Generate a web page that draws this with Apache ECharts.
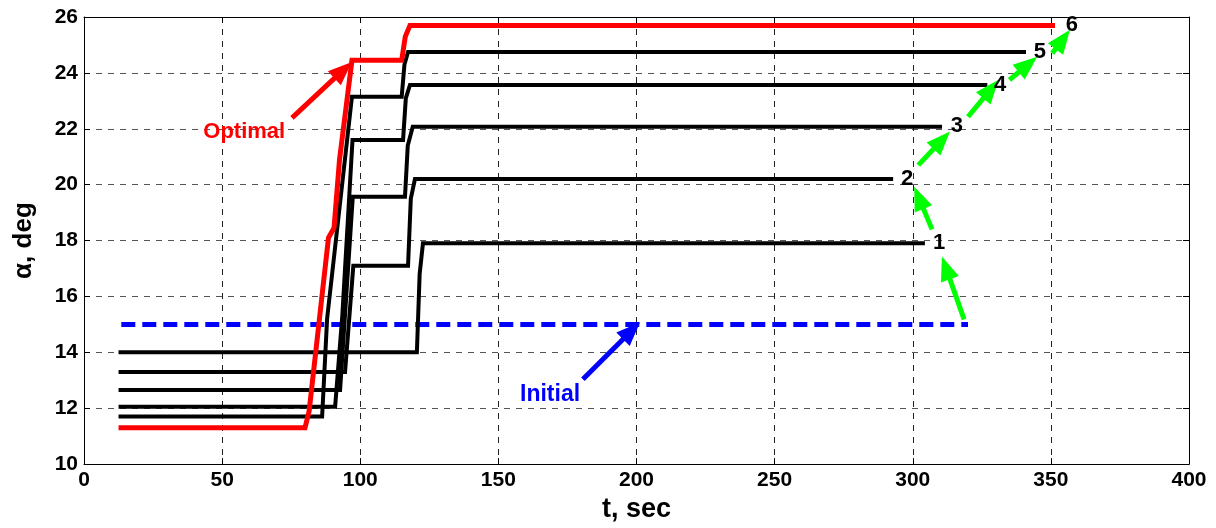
<!DOCTYPE html>
<html>
<head>
<meta charset="utf-8">
<script src="https://cdn.jsdelivr.net/npm/echarts@6/dist/echarts.min.js"></script>
<style>html,body{margin:0;padding:0;background:#fff}#c{width:1216px;height:528px}</style>
</head>
<body>
<div id="c"></div>
<script>
// ---- data (t in sec, alpha in deg) ----
const xTicks = [0, 50, 100, 150, 200, 250, 300, 350, 400];
const yTicks = [10, 12, 14, 16, 18, 20, 22, 24, 26];
const initialCurve = [[13.5, 15.0], [320, 15.0]];
const curve1 = [[12.5, 14.0], [120.5, 14.0], [121.5, 16.8], [122.7, 17.9], [304.4, 17.9]];
const curve2 = [[12.5, 13.3], [94.5, 13.3], [97.5, 17.1], [117.3, 17.1], [118.3, 19.5], [119.8, 20.2], [292.9, 20.2]];
const curve3 = [[12.5, 12.65], [92.7, 12.65], [97.3, 19.57], [116.2, 19.57], [117.2, 21.4], [119.0, 22.07], [310.6, 22.07]];
const curve4 = [[12.5, 12.05], [90.9, 12.05], [93.5, 15.3], [97.2, 21.6], [115.5, 21.6], [116.5, 23.1], [118.0, 23.57], [327, 23.57]];
const curve5 = [[12.5, 11.7], [86.2, 11.7], [88.0, 15.2], [97.0, 23.15], [115.0, 23.15], [116.0, 24.3], [117.3, 24.75], [341, 24.75]];
const optimalCurve = [[12.5, 11.3], [80, 11.3], [81.5, 11.9], [88.5, 18.1], [90.5, 18.45], [92.5, 20.9], [97, 24.45], [115, 24.45], [116.3, 25.3], [118, 25.7], [351.5, 25.7]];
const curveLabels = [[309.5, 17.9, '1'], [298, 20.2, '2'], [316, 22.1, '3'], [331.6, 23.57, '4'], [346, 24.75, '5'], [357.6, 25.7, '6']];
// arrows: [tail, arrowhead centre]
const greenArrows = [
  [[318.6, 15.18], [312.0, 17.02]],
  [[307.0, 18.4], [302.2, 19.53]],
  [[302.0, 20.7], [310.5, 21.59]],
  [[320.0, 22.43], [328.3, 23.42]],
  [[335.0, 23.75], [341.7, 24.30]],
  [[350.5, 24.7], [354.3, 25.20]]
];
const optimalArrow = [[75.3, 22.39], [93.8, 24.10]];
const initialArrow = [[180.6, 13.04], [198.2, 14.77]];
const optimalText = [[58, 21.9, 'Optimal']];
const initialText = [[168.7, 12.5, 'Initial']];

const FONT = 'Liberation Sans, Arial, sans-serif';

function curveSeries(data, color, width, dashed) {
  return {
    type: 'line', data: data, showSymbol: false, silent: true, animation: false,
    lineStyle: { color: color, width: width, type: dashed ? [14, 7] : 'solid', cap: 'butt', join: 'miter' },
    z: 3
  };
}
function arrowSeries(arrows, color) {
  return {
    type: 'line', data: [], silent: true, animation: false, z: 4,
    markLine: {
      silent: true, animation: false,
      symbol: ['none', 'triangle'], symbolSize: [19, 24],
      label: { show: false },
      lineStyle: { color: color, width: 5, type: 'solid', cap: 'butt', opacity: 1 },
      itemStyle: { color: color, opacity: 1 },
      emphasis: { disabled: true },
      data: arrows.map(a => [{ coord: a[0] }, { coord: a[1] }])
    }
  };
}
function textSeries(data, color, size) {
  return {
    type: 'scatter', data: data, symbolSize: 0, silent: true, animation: false, z: 5,
    itemStyle: { opacity: 1, color: color },
    label: { show: true, position: 'inside', formatter: p => p.data[2], color: color, opacity: 1,
      textBorderWidth: 0, textBorderColor: 'transparent',
      fontFamily: FONT, fontWeight: 'bold', fontSize: size }
  };
}

const option = {
  backgroundColor: '#fff',
  animation: false,
  grid: { left: 84, right: 27, top: 17, bottom: 63, containLabel: false },
  xAxis: [{
    type: 'value', min: 0, max: 400, interval: 50, position: 'bottom',
    name: 't, sec', nameLocation: 'middle', nameGap: 27,
    nameTextStyle: { fontFamily: FONT, fontWeight: 'bold', fontSize: 27, color: '#000' },
    axisLine: { show: true, onZero: false, lineStyle: { color: '#000', width: 1 } },
    axisTick: { show: true, inside: true, length: 6, lineStyle: { color: '#000' } },
    axisLabel: { margin: 6, fontFamily: FONT, fontWeight: 'bold', fontSize: 21, color: '#000',
      formatter: v => xTicks.includes(v) ? String(v) : '' },
    splitLine: { show: true, lineStyle: { color: '#222', width: 1, type: [6, 6] } }
  }, {
    type: 'value', min: 0, max: 400, interval: 50, position: 'top',
    axisLine: { show: true, onZero: false, lineStyle: { color: '#000', width: 1 } },
    axisTick: { show: true, inside: true, length: 6, lineStyle: { color: '#000' } },
    axisLabel: { show: false }, splitLine: { show: false }
  }],
  yAxis: [{
    type: 'value', min: 10, max: 26, interval: 2, position: 'left',
    name: 'α, deg', nameLocation: 'middle', nameGap: 47, nameRotate: 90,
    nameTextStyle: { fontFamily: FONT, fontWeight: 'bold', fontSize: 26, color: '#000' },
    axisLine: { show: true, onZero: false, lineStyle: { color: '#000', width: 1 } },
    axisTick: { show: true, inside: true, length: 6, lineStyle: { color: '#000' } },
    axisLabel: { margin: 6, fontFamily: FONT, fontWeight: 'bold', fontSize: 21, color: '#000',
      formatter: v => yTicks.includes(v) ? String(v) : '' },
    splitLine: { show: true, lineStyle: { color: '#555', width: 1, type: [6, 6] } }
  }, {
    type: 'value', min: 10, max: 26, interval: 2, position: 'right',
    axisLine: { show: true, onZero: false, lineStyle: { color: '#000', width: 1 } },
    axisTick: { show: true, inside: true, length: 6, lineStyle: { color: '#000' } },
    axisLabel: { show: false }, splitLine: { show: false }
  }],
  series: [
    curveSeries(initialCurve, '#0000ff', 5, true),
    curveSeries(curve1, '#000', 4),
    curveSeries(curve2, '#000', 4),
    curveSeries(curve3, '#000', 4),
    curveSeries(curve4, '#000', 4),
    curveSeries(curve5, '#000', 4),
    curveSeries(optimalCurve, '#ff0000', 5),
    arrowSeries(greenArrows, '#00ff00'),
    arrowSeries([optimalArrow], '#ff0000'),
    arrowSeries([initialArrow], '#0000ff'),
    textSeries(curveLabels, '#000', 22),
    textSeries(optimalText, '#ff0000', 22),
    textSeries(initialText, '#0000ff', 23)
  ]
};
const chart = echarts.init(document.getElementById('c'), null, { renderer: 'canvas' });
chart.setOption(option);
</script>
</body>
</html>
